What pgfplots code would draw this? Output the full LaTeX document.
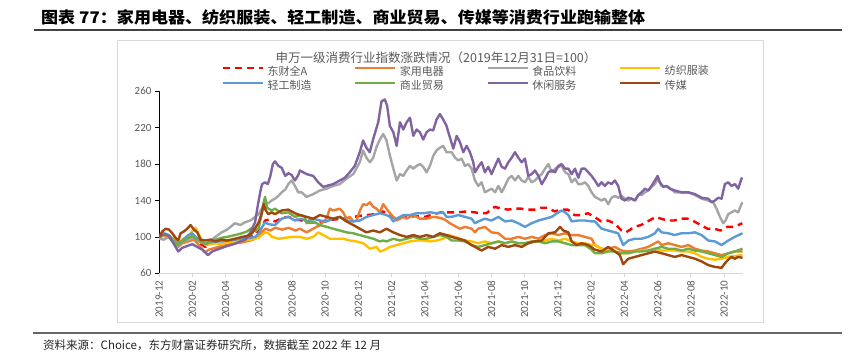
\documentclass[border=0pt]{standalone}
\usepackage{pgfplots}
\pgfplotsset{compat=1.18}
\usepackage{graphicx}
\usepackage{fontspec}
\setmainfont{Carlito}
\newfontfamily\cjk{Noto Sans CJK SC}
\definecolor{cRed}{HTML}{FF0000}
\definecolor{cOrange}{HTML}{ED7D31}
\definecolor{cGray}{HTML}{A5A5A5}
\definecolor{cYellow}{HTML}{FFC000}
\definecolor{cBlue}{HTML}{5B9BD5}
\definecolor{cGreen}{HTML}{70AD47}
\definecolor{cPurple}{HTML}{8064A2}
\definecolor{cBrown}{HTML}{9E480E}
\definecolor{cTxt}{HTML}{595959}
\definecolor{cAxisX}{HTML}{D9D9D9}
\definecolor{cBox}{HTML}{D9D9D9}
\definecolor{cTitleLine}{HTML}{404040}
\definecolor{cFootLine}{HTML}{666666}
\definecolor{cFoot}{HTML}{262626}
\begin{document}
\begin{tikzpicture}[x=1pt,y=1pt]
\path[use as bounding box] (0,0) rectangle (862,355);
\node[anchor=west, inner sep=0pt, text=black] at (41,337.5) {\resizebox{604pt}{\height}{\cjk\bfseries\fontsize{16}{18}\selectfont 图表 77：家用电器、纺织服装、轻工制造、商业贸易、传媒等消费行业跑输整体}};
\draw[line width=1.2pt, color=cTitleLine] (34,325) -- (842,325);
\draw[line width=0.75pt, color=cBox] (117,33) rectangle (763,315);
\node[text=cTxt, font=\cjk\fontsize{12.5}{14}\selectfont, inner sep=0pt] at (436,297) {申万一级消费行业指数涨跌情况（2019年12月31日=100）};
\draw[line width=1.5pt, color=cFootLine] (33,22) -- (842,22);
\node[anchor=west, inner sep=0pt, font=\cjk\fontsize{11.5}{13}\selectfont, text=cFoot] at (43,10) {资料来源：Choice，东方财富证券研究所，数据截至 2022 年 12 月};
\begin{axis}[
  at={(159pt,81.7pt)}, anchor=south west,
  scale only axis, width=584pt, height=182pt,
  xmin=0, xmax=35.14, ymin=60, ymax=260,
  axis x line*=bottom, axis y line*=left,
  x axis line style={draw=cAxisX, line width=0.75pt, -},
  y axis line style={draw=black, line width=0.75pt, -},
  xtick={0,2,...,34},
  xticklabels={2019-12,2020-02,2020-04,2020-06,2020-08,2020-10,2020-12,2021-02,2021-04,2021-06,2021-08,2021-10,2021-12,2022-02,2022-04,2022-06,2022-08,2022-10},
  ytick={60,100,...,260},
  tick align=outside, major tick length=4pt,
  xtick style={draw=cAxisX, line width=0.75pt},
  ytick style={draw=black, line width=0.75pt},
  xticklabel style={rotate=90, anchor=east, font=\fontsize{11}{13}\selectfont, text=cTxt},
  yticklabel style={font=\fontsize{11}{13}\selectfont, text=cTxt},
  /pgf/number format/assume math mode=true,
  every axis plot/.append style={line width=2.4pt, line join=round},
  legend columns=4,
  legend style={at={(0.107,1.15)}, anchor=north west, draw=none, fill=none,
    font=\cjk\fontsize{11}{13}\selectfont, text=cTxt, inner sep=0pt,
    nodes={inner sep=1.5pt}, row sep=1pt,
    /tikz/every odd column/.append style={column sep=2pt}},
  legend image code/.code={\draw[#1] (0pt,3pt) -- (40pt,3pt);},
]
\addplot[cRed, dash pattern=on 7pt off 5pt] coordinates {
(0,100) (0.3,102) (0.6,101) (0.9,97) (1.16,93) (1.4,96) (1.76,99) (2.1,99) (2.4,94) (2.77,89) (3.1,92) (3.4,94) (3.77,95) (4.1,96) (4.57,97) (5.0,98) (5.5,100) (5.78,102) (6.0,106) (6.18,110) (6.38,118) (6.6,119) (7.0,117) (7.4,121) (7.8,122) (8.2,119) (8.6,118) (9.0,116) (9.5,116) (10.0,117) (10.5,119) (11.0,120) (11.5,121) (12.0,123) (12.5,124) (13.0,125) (13.4,128) (13.7,127) (14.0,122) (14.3,120) (14.7,122) (15.0,122) (15.5,123) (16.0,122) (16.5,125) (17.0,127) (17.5,127) (18.0,127) (18.5,128) (19.0,127) (19.3,126) (19.7,126) (20.2,133) (20.6,131) (21.0,130) (21.4,131) (21.8,131) (22.2,130) (22.6,130) (23.0,132) (23.4,132) (23.8,128) (24.2,130) (24.6,130) (25.0,124) (25.4,124) (25.8,126) (26.2,122) (26.6,117) (27.0,118) (27.4,115) (27.83,107) (28.1,105) (28.6,111) (29.0,113) (29.4,117) (29.9,122) (30.2,120) (30.6,118) (31.0,118) (31.4,120) (31.8,120) (32.2,117) (32.6,113) (33.0,109) (33.4,109) (33.8,107) (34.2,111) (34.6,111) (35.1,115)
};
\addlegendentry{\makebox[85pt][l]{东财全A}}
\addplot[cOrange] coordinates {
(0,100) (0.3,101) (0.6,99) (0.9,94) (1.16,89) (1.4,93) (1.76,95) (2.1,97) (2.4,91) (2.77,83) (3.0,86) (3.4,88) (3.77,90) (4.1,91) (4.57,93) (5.0,94) (5.5,96) (5.78,98) (6.0,101) (6.18,105) (6.4,109) (6.7,107) (7.0,110) (7.4,108) (7.8,110) (8.2,107) (8.48,109) (8.88,105) (9.28,109) (9.68,113) (10.08,120) (10.28,131) (10.48,129) (10.88,131) (11.08,127) (11.28,120) (11.49,122) (11.69,117) (11.89,118) (12.09,129) (12.29,136) (12.49,135) (12.69,138) (12.89,133) (13.09,131) (13.29,127) (13.49,136) (13.69,131) (13.9,126) (14.1,122) (14.3,118) (14.5,120) (14.7,122) (14.9,120) (15.3,124) (15.7,120) (16.1,120) (16.5,122) (16.9,121) (17.2,119) (17.5,115) (17.8,112) (18.1,109) (18.41,111) (18.81,109) (19.01,105) (19.21,109) (19.61,111) (20.01,105) (20.42,104) (20.82,98) (21.22,98) (21.62,100) (22.02,98) (22.42,100) (22.83,98) (23.23,102) (23.63,104) (24.03,102) (24.43,104) (24.83,102) (25.23,102) (25.63,100) (26.03,98) (26.23,91) (26.63,87) (27.03,87) (27.43,89) (27.83,85) (28.24,84) (28.64,85) (29.04,87) (29.44,89) (29.84,93) (30.04,95) (30.24,91) (30.64,93) (31.04,91) (31.44,89) (31.85,91) (32.25,87) (32.65,85) (33.05,84) (33.45,82) (33.85,80) (34.25,82) (34.65,84) (35.11,84)
};
\addlegendentry{\makebox[85pt][l]{家用电器}}
\addplot[cGray] coordinates {
(0,98) (0.3,97) (0.6,100) (0.9,96) (1.16,90) (1.4,95) (1.76,97) (2.1,99) (2.4,95) (2.77,92) (3.1,96) (3.4,100) (3.77,105) (4.1,108) (4.57,115) (4.9,113) (5.17,116) (5.5,118) (5.78,122) (6.0,125) (6.18,131) (6.38,138) (6.58,137) (6.78,140) (6.98,142) (7.18,145) (7.38,149) (7.6,152) (7.78,158) (7.98,162) (8.18,156) (8.38,149) (8.58,149) (8.88,144) (9.28,147) (9.68,151) (10.08,153) (10.48,156) (10.88,158) (11.28,164) (11.69,169) (12.08,182) (12.28,195) (12.48,187) (12.69,182) (12.89,187) (13.09,199) (13.29,207) (13.49,213) (13.69,206) (13.9,189) (14.1,175) (14.3,162) (14.5,169) (14.7,167) (14.9,173) (15.1,178) (15.3,175) (15.5,178) (15.7,180) (15.9,177) (16.1,171) (16.3,178) (16.5,189) (16.7,195) (16.9,198) (17.1,200) (17.3,193) (17.61,193) (17.81,187) (18.01,184) (18.21,186) (18.41,178) (18.61,180) (18.81,175) (19.01,162) (19.21,156) (19.41,160) (19.61,149) (19.81,151) (20.01,153) (20.22,149) (20.42,156) (20.62,149) (20.82,156) (21.02,164) (21.22,167) (21.42,162) (21.62,167) (21.82,162) (22.02,160) (22.22,166) (22.42,160) (22.62,162) (22.83,166) (23.03,169) (23.23,175) (23.43,180) (23.63,171) (23.83,175) (24.03,177) (24.23,178) (24.43,171) (24.63,169) (24.83,160) (25.03,164) (25.23,158) (25.43,158) (25.63,160) (25.83,156) (26.03,149) (26.23,144) (26.43,142) (26.63,140) (26.83,142) (27.03,136) (27.23,143) (27.43,145) (27.63,143) (27.83,145) (28.03,142) (28.24,140) (28.44,142) (28.64,140) (28.84,146) (29.04,146) (29.24,149) (29.44,151) (29.64,155) (29.84,158) (30.0,164) (30.24,156) (30.64,155) (31.04,149) (31.44,149) (31.85,149) (32.25,146) (32.65,142) (33.05,140) (33.35,138) (33.55,131) (33.75,122) (33.95,115) (34.09,118) (34.25,125) (34.45,127) (34.65,129) (34.85,127) (35.05,136) (35.11,138)
};
\addlegendentry{\makebox[85pt][l]{食品饮料}}
\addplot[cYellow] coordinates {
(0,100) (0.3,102) (0.6,101) (0.9,97) (1.16,93) (1.4,97) (1.76,101) (2.0,106) (2.2,110) (2.4,103) (2.6,95) (2.8,91) (3.1,92) (3.4,93) (3.77,92) (4.1,94) (4.57,95) (5.0,96) (5.5,97) (5.78,98) (6.0,99) (6.18,102) (6.38,105) (6.58,104) (6.8,100) (7.2,98) (7.6,99) (8.0,100) (8.48,100) (8.88,98) (9.28,100) (9.58,105) (9.88,102) (10.28,98) (10.68,98) (11.08,98) (11.49,96) (11.89,95) (12.29,93) (12.69,87) (13.09,89) (13.29,84) (13.49,85) (13.9,89) (14.3,91) (14.7,93) (15.1,95) (15.5,96) (15.9,96) (16.3,95) (16.7,96) (17.1,98) (17.41,102) (17.81,100) (18.41,96) (18.81,95) (19.21,93) (19.61,95) (20.01,93) (20.42,95) (20.82,93) (21.22,95) (21.62,93) (22.02,93) (22.42,95) (22.83,95) (23.23,96) (23.63,98) (24.03,96) (24.43,98) (24.83,95) (25.23,93) (25.63,93) (26.03,91) (26.23,91) (26.63,87) (27.03,85) (27.43,84) (27.83,82) (28.24,82) (28.64,84) (29.04,85) (29.44,85) (29.84,87) (30.24,85) (30.64,85) (31.04,85) (31.44,84) (31.85,84) (32.25,82) (32.65,78) (33.05,76) (33.45,75) (33.85,76) (34.25,78) (34.65,79) (35.11,80)
};
\addlegendentry{\makebox[85pt][l]{纺织服装}}
\addplot[cBlue] coordinates {
(0,100) (0.3,104) (0.6,102) (0.9,96) (1.16,92) (1.4,96) (1.76,102) (2.0,104) (2.2,100) (2.5,96) (2.77,92) (3.1,94) (3.4,95) (3.77,95) (4.1,96) (4.57,97) (5.0,98) (5.5,99) (5.78,100) (6.0,104) (6.18,110) (6.38,116) (6.58,114) (6.98,113) (7.38,120) (7.78,122) (8.18,118) (8.58,120) (8.88,117) (9.28,120) (9.68,118) (10.08,117) (10.48,120) (10.88,122) (11.28,118) (11.69,117) (12.09,118) (12.49,122) (12.89,124) (13.29,126) (13.69,124) (13.9,122) (14.1,117) (14.3,120) (14.7,124) (15.1,124) (15.5,126) (15.9,126) (16.3,127) (16.7,126) (17.1,127) (17.3,122) (17.61,122) (18.01,124) (18.41,122) (18.81,120) (19.01,115) (19.21,117) (19.61,120) (20.01,118) (20.42,122) (20.82,117) (21.22,118) (21.62,115) (22.02,111) (22.42,115) (22.83,118) (23.23,120) (23.63,122) (24.03,127) (24.23,129) (24.43,127) (24.63,124) (24.83,117) (25.23,118) (25.63,118) (26.03,117) (26.23,117) (26.63,109) (27.03,107) (27.43,105) (27.63,104) (27.93,91) (28.24,96) (28.64,98) (29.04,98) (29.44,100) (29.84,104) (30.04,109) (30.24,105) (30.64,104) (31.04,102) (31.44,104) (31.85,104) (32.25,105) (32.65,102) (33.05,96) (33.45,95) (33.85,91) (34.25,96) (34.65,100) (35.11,104)
};
\addlegendentry{\makebox[85pt][l]{轻工制造}}
\addplot[cGreen] coordinates {
(0,100) (0.3,103) (0.6,101) (0.9,95) (1.16,91) (1.4,95) (1.76,99) (2.0,101) (2.2,98) (2.5,95) (2.77,92) (3.1,95) (3.4,97) (3.77,99) (4.1,100) (4.57,102) (5.0,104) (5.3,106) (5.6,110) (5.8,106) (6.0,110) (6.18,125) (6.3,138) (6.38,144) (6.5,132) (6.78,129) (6.98,131) (7.38,126) (7.78,127) (8.18,122) (8.58,124) (8.78,122) (8.88,115) (9.28,117) (9.68,113) (10.08,111) (10.48,109) (10.88,107) (11.28,105) (11.69,104) (12.08,102) (12.48,100) (12.89,98) (13.29,95) (13.49,96) (13.69,95) (14.1,98) (14.5,96) (14.9,98) (15.3,100) (15.7,98) (16.1,98) (16.5,100) (16.9,102) (17.3,100) (17.61,96) (18.01,96) (18.41,95) (18.81,91) (19.21,89) (19.61,91) (20.01,93) (20.42,95) (20.82,93) (21.22,95) (21.62,93) (22.02,93) (22.42,95) (22.83,95) (23.23,93) (23.63,95) (24.03,95) (24.43,93) (24.83,91) (25.23,91) (25.63,91) (26.03,86) (26.23,82) (26.63,82) (27.03,84) (27.43,84) (27.83,82) (28.24,82) (28.64,84) (29.04,84) (29.44,85) (29.84,87) (30.24,89) (30.64,87) (31.04,87) (31.44,85) (31.85,87) (32.25,85) (32.65,84) (33.05,82) (33.45,80) (33.85,78) (34.25,82) (34.65,84) (35.11,87)
};
\addlegendentry{\makebox[85pt][l]{商业贸易}}
\addplot[cPurple] coordinates {
(0,100) (0.3,103) (0.6,101) (0.9,92) (1.16,84) (1.4,88) (1.7,90) (2.0,92) (2.3,89) (2.6,86) (2.95,80) (3.2,84) (3.5,86) (3.8,88) (4.1,90) (4.5,92) (4.9,95) (5.2,97) (5.5,105) (5.78,116) (5.95,135) (6.1,150) (6.2,158) (6.38,160) (6.55,158) (6.7,167) (6.85,180) (6.98,183) (7.18,178) (7.38,176) (7.6,167) (7.78,170) (7.98,168) (8.18,162) (8.38,168) (8.48,173) (8.88,169) (9.28,167) (9.58,160) (9.88,155) (10.08,156) (10.48,158) (10.88,162) (11.18,165) (11.48,171) (11.78,178) (12.08,193) (12.28,206) (12.48,198) (12.68,193) (12.88,207) (13.19,226) (13.39,249) (13.59,251) (13.73,244) (13.89,222) (14.1,215) (14.3,200) (14.5,226) (14.7,218) (14.9,226) (15.1,231) (15.3,211) (15.5,218) (15.7,215) (15.9,207) (16.1,215) (16.3,218) (16.5,217) (16.7,229) (16.9,235) (17.1,229) (17.3,222) (17.41,215) (17.71,197) (17.91,211) (18.11,204) (18.31,193) (18.51,200) (18.71,193) (18.91,182) (19.01,171) (19.21,177) (19.41,182) (19.61,171) (19.81,177) (20.01,169) (20.22,178) (20.42,186) (20.62,177) (20.82,175) (21.02,182) (21.22,187) (21.42,193) (21.62,187) (21.82,182) (22.02,186) (22.22,167) (22.42,169) (22.62,173) (22.83,167) (23.03,158) (23.23,164) (23.43,171) (23.63,173) (23.83,171) (24.03,178) (24.23,180) (24.43,175) (24.63,175) (24.83,169) (25.03,175) (25.23,165) (25.43,175) (25.63,175) (25.83,171) (26.03,167) (26.23,162) (26.43,156) (26.63,160) (26.83,156) (27.03,160) (27.23,158) (27.43,162) (27.63,156) (27.83,142) (28.03,140) (28.24,143) (28.44,142) (28.64,140) (28.84,146) (29.04,149) (29.24,153) (29.44,151) (29.64,156) (29.84,162) (30.0,167) (30.14,160) (30.34,155) (30.54,156) (30.74,153) (31.04,151) (31.44,149) (31.85,149) (32.25,147) (32.65,143) (33.05,142) (33.25,138) (33.45,140) (33.65,143) (33.85,142) (34.05,158) (34.25,160) (34.45,156) (34.65,158) (34.85,153) (35.05,164) (35.11,165)
};
\addlegendentry{\makebox[85pt][l]{休闲服务}}
\addplot[cBrown] coordinates {
(0,100) (0.2,106) (0.4,109) (0.6,108) (0.8,104) (1.0,99) (1.16,96) (1.3,104) (1.5,106) (1.7,109) (1.9,113) (2.1,108) (2.3,105) (2.5,97) (2.77,96) (3.1,97) (3.4,95) (3.77,97) (4.1,96) (4.57,98) (5.0,100) (5.3,101) (5.6,104) (5.8,110) (6.0,116) (6.18,126) (6.3,136) (6.4,130) (6.58,125) (6.78,127) (6.98,125) (7.38,129) (7.78,130) (8.18,126) (8.48,124) (8.88,122) (9.28,120) (9.68,124) (10.08,122) (10.48,120) (10.88,122) (11.28,117) (11.69,113) (12.08,109) (12.48,105) (12.89,107) (13.29,105) (13.69,109) (14.1,105) (14.5,102) (14.9,100) (15.3,102) (15.7,100) (16.1,102) (16.5,100) (16.9,104) (17.3,102) (17.61,100) (18.01,98) (18.41,96) (18.81,91) (19.21,87) (19.41,85) (19.81,89) (20.22,87) (20.62,91) (21.02,89) (21.42,91) (21.82,89) (22.22,93) (22.62,95) (23.03,96) (23.43,104) (23.83,105) (24.13,111) (24.33,107) (24.63,105) (24.83,95) (25.13,91) (25.43,93) (25.83,91) (26.23,86) (26.63,84) (27.03,89) (27.43,84) (27.73,80) (27.93,70) (28.24,76) (28.64,78) (29.04,80) (29.44,82) (29.84,84) (30.24,82) (30.64,80) (31.04,78) (31.44,80) (31.85,78) (32.25,76) (32.65,73) (33.05,69) (33.45,67) (33.85,66) (34.05,71) (34.25,75) (34.45,78) (34.65,76) (34.85,78) (35.11,77)
};
\addlegendentry{\makebox[85pt][l]{传媒}}
\end{axis}
\end{tikzpicture}
\end{document}
